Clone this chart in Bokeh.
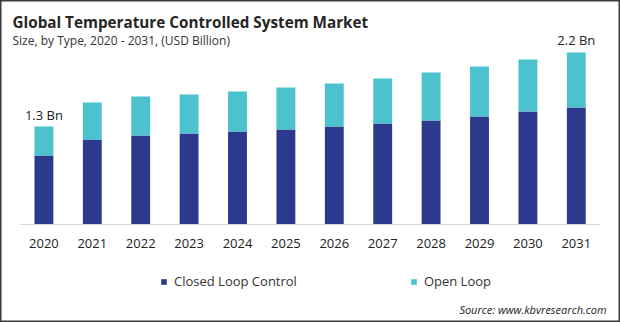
from bokeh.plotting import figure
from bokeh.models import Label, Range1d, ColumnDataSource
from bokeh.embed import file_html
from bokeh.resources import INLINE
from bokeh.core.properties import value

# ---- data ----
years = [2020, 2021, 2022, 2023, 2024, 2025, 2026, 2027, 2028, 2029, 2030, 2031]
year_labels = [str(y) for y in years]
closed_loop = [0.915, 1.128, 1.181, 1.207, 1.234, 1.260, 1.300, 1.340, 1.380, 1.433, 1.499, 1.552]
open_loop = [0.385, 0.490, 0.517, 0.517, 0.530, 0.557, 0.570, 0.597, 0.636, 0.663, 0.690, 0.730]
series_names = ["Closed Loop Control", "Open Loop"]
colors = ["#2C3A8E", "#4CC2CE"]
end_labels = ["1.3 Bn", "2.2 Bn"]

title = "Global Temperature Controlled System Market"
subtitle = "Size, by Type,  2020 - 2031, (USD Billion)"
source_note = "Source: www.kbvresearch.com"

# ---- layout ----
W, H = 620, 322
px = 1.3 / 98.0          # data units per pixel
base_px = 224            # baseline from top
pitch = 48.4             # pixels per year
first_center = 43.4
y0 = -(H - base_px) * px
y1 = base_px * px
x0 = years[0] - first_center / pitch
x1 = x0 + W / pitch

FONT = "Open Sans"

p = figure(width=W, height=H, output_backend="svg", toolbar_location=None,
           x_range=Range1d(x0, x1), y_range=Range1d(y0, y1),
           x_axis_location=None, y_axis_location=None, min_border=0)
p.grid.visible = False
p.outline_line_color = "#3A3A3A"
p.outline_line_width = 2
p.background_fill_color = "white"
p.border_fill_color = "white"

src = ColumnDataSource(dict(year=years, year_label=year_labels,
                            closed=closed_loop, open=open_loop,
                            total=[a + b for a, b in zip(closed_loop, open_loop)]))

p.vbar_stack(["closed", "open"], x="year", width=0.39, color=colors,
             line_color=None, source=src, legend_label=series_names)

# baseline
p.segment(x0=[years[0] - 0.5], y0=[0], x1=[years[-1] + 0.5], y1=[0],
          line_color="#D9D9D9", line_width=1)

# year labels
p.text(x="year", y=-19 * px, text="year_label", source=src,
       text_font=value(FONT), text_font_size="13px", text_color="#222222",
       text_align="center", text_baseline="middle")

# end value labels
lab_src = ColumnDataSource(dict(
    x=[years[0], years[-1]],
    y=[closed_loop[0] + open_loop[0], closed_loop[-1] + open_loop[-1]],
    t=end_labels))
p.text(x="x", y="y", text="t", source=lab_src, y_offset=-3,
       text_font=value(FONT), text_font_size="13px", text_color="#222222",
       text_align="center", text_baseline="bottom")

# titles
p.add_layout(Label(x=12, y=H - 21, x_units="screen", y_units="screen", text=title,
                   text_font=FONT, text_font_size="15.25px", text_font_style="bold",
                   text_color="#262626", text_baseline="middle"))
p.add_layout(Label(x=12, y=H - 40, x_units="screen", y_units="screen", text=subtitle,
                   text_font=FONT, text_font_size="12px",
                   text_color="#333333", text_baseline="middle"))
p.add_layout(Label(x=606, y=H - 309, x_units="screen", y_units="screen", text=source_note,
                   text_font=FONT, text_font_size="11px", text_font_style="italic",
                   text_color="#222222", text_baseline="middle", text_align="right"))

# legend
lg = p.legend[0]
lg.orientation = "horizontal"
lg.location = (160, 31)
lg.padding = 0
lg.margin = 0
lg.spacing = 113
lg.glyph_width = 7
lg.glyph_height = 7
lg.label_standoff = 7
lg.label_height = 20
lg.border_line_color = None
lg.background_fill_alpha = 0
lg.label_text_font = FONT
lg.label_text_font_size = "13px"
lg.label_text_color = "#333333"
lg.items = list(lg.items)

open("out.html", "w").write(file_html(p, INLINE))
